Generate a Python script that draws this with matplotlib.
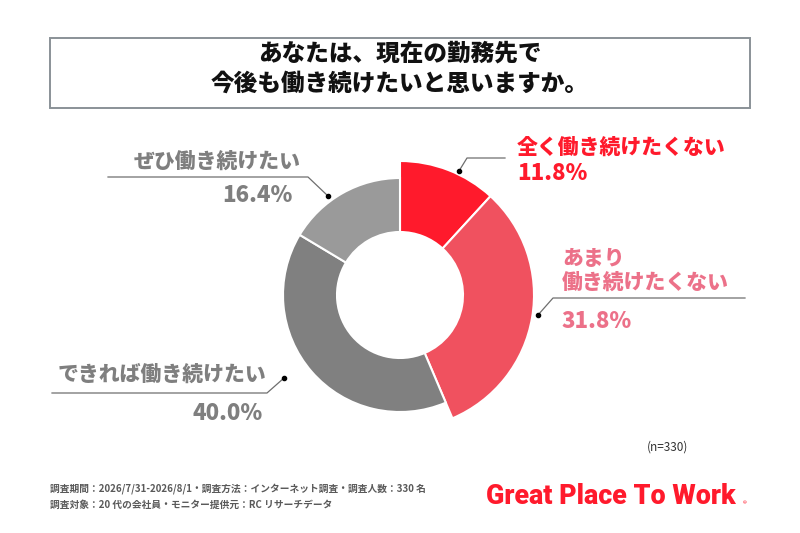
import matplotlib
matplotlib.use("Agg")
import matplotlib.pyplot as plt
from matplotlib.patches import Rectangle

plt.rcParams['font.family'] = ['Noto Sans CJK JP', 'DejaVu Sans']

# data
categories = ["全く働き続けたくない", "あまり\n働き続けたくない", "できれば働き続けたい", "ぜひ働き続けたい"]
values = [11.8, 31.8, 40.0, 16.4]
colors = ["#FF1A2C", "#F0515F", "#808080", "#9A9A9A"]
label_colors = ["#FF1A2C", "#EC7189", "#7F7F7F", "#7F7F7F"]
title_lines = ["あなたは、現在の勤務先で", "今後も働き続けたいと思いますか。"]
n_note = "(n=330)"
footer1 = "調査期間：2026/7/31-2026/8/1・調査方法：インターネット調査・調査人数：330 名"
footer2 = "調査対象：20 代の会社員・モニター提供元：RC リサーチデータ"

W, H = 800, 533
fig = plt.figure(figsize=(8, 5.33), dpi=100)
ax = fig.add_axes([0, 0, 1, 1])


def Y(y):
    # image pixel row -> axes y
    return H - y


# title box
ax.add_patch(Rectangle((50, Y(108)), 700, 70, facecolor="white",
                       edgecolor="#8A9297", linewidth=1.4, zorder=1))
for y, line in zip([53, 83], title_lines):
    ax.text(400, Y(y), line, ha="center", va="center", fontsize=17,
            fontweight="heavy", color="#111111")

# donut
cx, cy = 400, Y(295)
wedges, _ = ax.pie(values, colors=colors, startangle=90, counterclock=False,
                   radius=117, center=(cx, cy),
                   wedgeprops=dict(width=54, edgecolor="white", linewidth=1.5))
# the two "do not want" slices stand out further
for w in wedges[:2]:
    w.set_radius(134)
    w.set_width(71)

# leader lines (dot, elbow, end) in image pixels
leaders = [
    [(459, 171), (467, 158), (505, 158)],
    [(538, 315), (553, 298), (745, 298)],
    [(284, 378), (267, 393), (52, 393)],
    [(328, 196), (308, 177), (108, 177)],
]
for pts in leaders:
    xs = [p[0] for p in pts]
    ys = [Y(p[1]) for p in pts]
    ax.plot(xs, ys, color="#6E6E6E", lw=0.9, zorder=3)
    ax.plot(xs[0], ys[0], "o", color="black", ms=3, zorder=4)

# labels
ax.text(517, Y(148), categories[0], ha="left", va="center", fontsize=15,
        fontweight="heavy", color=label_colors[0])
ax.text(517, Y(174), f"{values[0]:.1f}%", ha="left", va="center", fontsize=16,
        fontweight="heavy", color=label_colors[0])

ax.text(562, Y(271), categories[1], ha="left", va="center", fontsize=15,
        fontweight="heavy", color=label_colors[1], linespacing=1.2)
ax.text(562, Y(321), f"{values[1]:.1f}%", ha="left", va="center", fontsize=16,
        fontweight="heavy", color=label_colors[1])

ax.text(266, Y(375), categories[2], ha="right", va="center", fontsize=15,
        fontweight="heavy", color=label_colors[2])
ax.text(263, Y(413), f"{values[2]:.1f}%", ha="right", va="center", fontsize=16,
        fontweight="heavy", color=label_colors[2])

ax.text(301, Y(162), categories[3], ha="right", va="center", fontsize=15,
        fontweight="heavy", color=label_colors[3])
ax.text(293, Y(195), f"{values[3]:.1f}%", ha="right", va="center", fontsize=16,
        fontweight="heavy", color=label_colors[3])

# notes
ax.text(668, Y(447), n_note, ha="center", va="center", fontsize=8.5,
        color="#333333")
ax.text(50, Y(489), footer1, ha="left", va="center", fontsize=7,
        fontweight="bold", color="#595959")
ax.text(50, Y(505), footer2, ha="left", va="center", fontsize=7,
        fontweight="bold", color="#595959")

# logo
ax.text(486, Y(497), "Great Place To Work", ha="left", va="center",
        fontsize=19.4, fontweight="heavy", family=["Roboto", "DejaVu Sans"],
        color="#FF1A2C")
ax.text(743, Y(504), "®", ha="left", va="center", fontsize=5.5,
        color="#FF1A2C")

ax.set_xlim(0, W)
ax.set_ylim(0, H)
ax.set_aspect("equal")
ax.axis("off")

fig.savefig("out.png", dpi=100, facecolor="white")
